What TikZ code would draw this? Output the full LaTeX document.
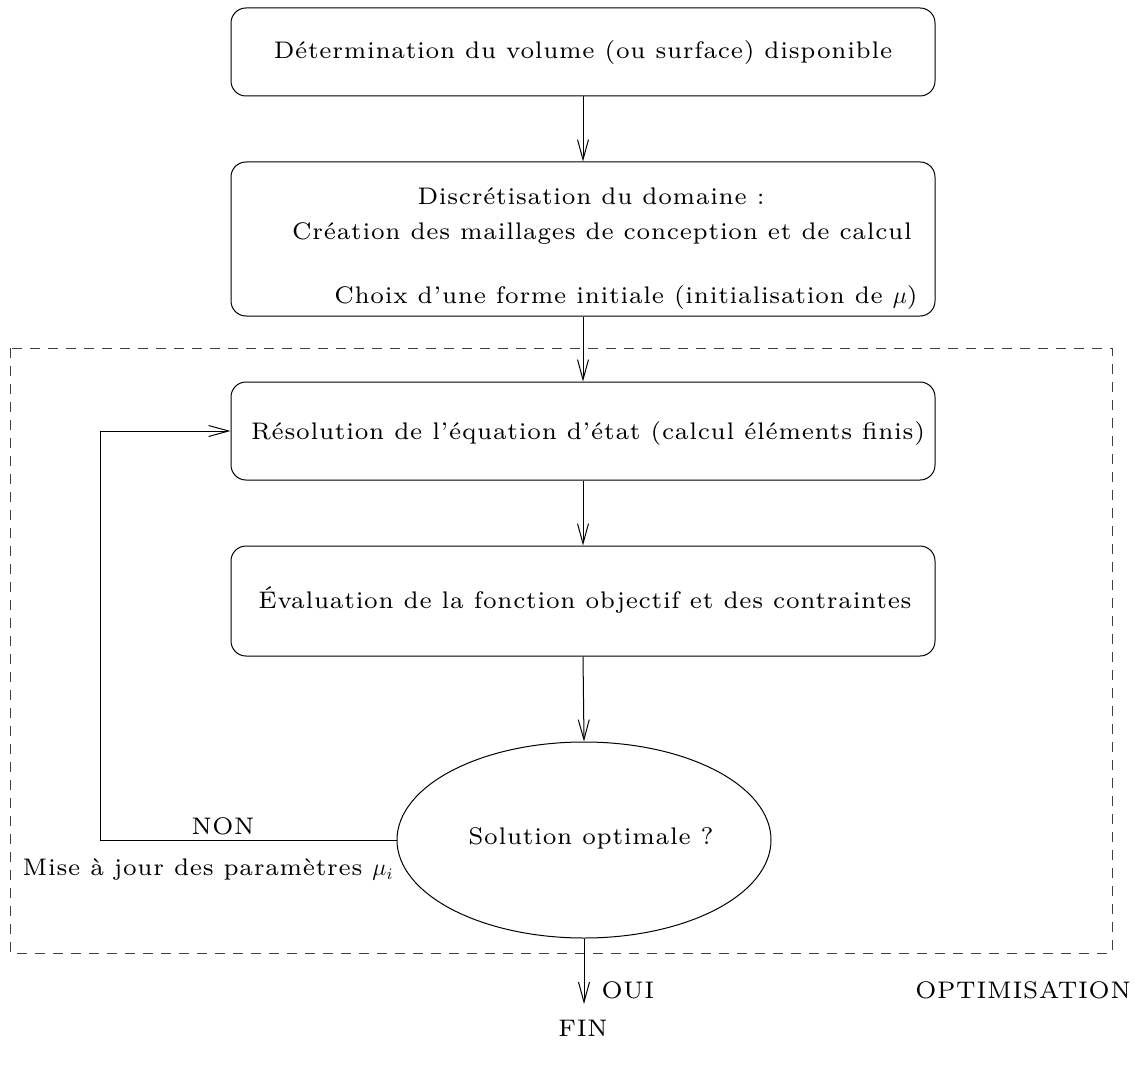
\documentclass[tikz,border=0pt]{standalone}
\usepackage{fontspec}
\setmainfont{lmroman7-regular}[Extension=.otf,LetterSpace=3]
\usetikzlibrary{arrows.meta,shapes.geometric}
\begin{document}
\begin{tikzpicture}[x=0.5pt,y=-0.5pt,
  every node/.style={font=\fontsize{12}{14}\selectfont},
  box/.style={draw,rounded corners=7.5pt,minimum width=352pt,line width=0.5pt,inner sep=0pt},
  lbl/.style={inner sep=0pt},
  arr/.style={line width=0.5pt,-{Straight Barb[length=10pt,width=5.5pt,line width=0.5pt]}},
  ln/.style={line width=0.5pt}]
\useasboundingbox (0,0) rectangle (1138,1069);
\draw[dash pattern=on 5pt off 4pt,line width=0.5pt,black!75] (10,348) rectangle (1112,953);
\node[box,minimum height=44pt] (b1) at (583,52) {};
\node[lbl] (t1) at (583,52) {Détermination du volume (ou surface) disponible};
\node[box,minimum height=77pt] (b2) at (583,239) {};
\node[lbl] (t2a) at (591,196) {Discrétisation du domaine :};
\node[lbl] (t2b) at (602,234) {Création des maillages de conception et de calcul};
\node[lbl] (t2c) at (626,297) {Choix d'une forme initiale (initialisation de $\mu$)};
\node[box,minimum height=49pt] (b3) at (583,431) {};
\node[lbl] (t3) at (588,433) {Résolution de l'équation d'état (calcul éléments finis)};
\node[box,minimum height=55pt] (b4) at (583,601) {};
\node[lbl] (t4) at (585,600) {Évaluation de la fonction objectif et des contraintes};
\node[draw,ellipse,line width=0.5pt,minimum width=187pt,minimum height=98pt,inner sep=0pt] (ell) at (584,840) {};
\node[lbl] (t5) at (591,838) {Solution optimale ?};
\node[lbl] (non) at (223,826) {NON};
\node[lbl] (mise) at (208,870) {Mise à jour des paramètres $\mu_i$};
\node[lbl] (oui) at (628,990) {OUI};
\node[lbl] (fin) at (583,1028) {FIN};
\node[lbl] (opt) at (1023,990) {OPTIMISATION};
\coordinate (loopc) at (100,840);
\coordinate (finend) at (584,1004);
\draw[arr] (b1.south) -- (b2.north);
\draw[arr] (b2.south) -- (b3.north);
\draw[arr] (b3.south) -- (b4.north);
\draw[arr] (b4.south) -- (ell.north);
\draw[arr] (ell.west) -- (loopc) |- (b3.west);
\draw[arr] (ell.south) -- (finend);
\end{tikzpicture}
\end{document}
